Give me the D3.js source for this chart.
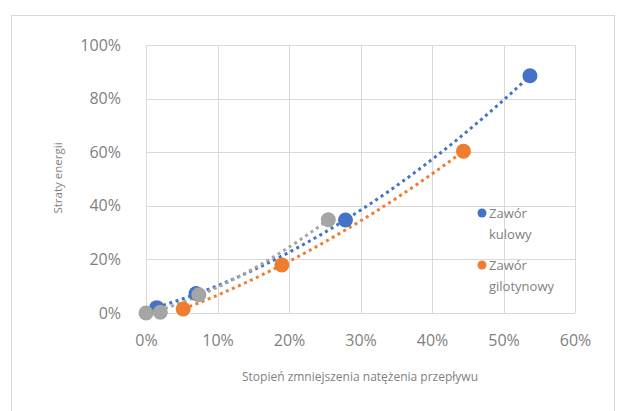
<!DOCTYPE html>
<html>
<head>
<meta charset="utf-8">
<script src="https://cdn.jsdelivr.net/npm/d3@7"></script>
<style>
  html, body { margin: 0; padding: 0; background: #fff; }
  svg { display: block; font-family: "Open Sans", "Liberation Sans", sans-serif; }
</style>
</head>
<body>
<svg id="chart" width="621" height="411"></svg>
<script>
// Flow reduction (%) vs. energy loss (%) for two valve types
const kulowyX = [1.5, 7.0, 27.9, 53.7];
const kulowyY = [2.0, 7.3, 34.7, 88.5];
const gilotynowyX = [5.2, 19.0, 44.4];
const gilotynowyY = [1.5, 17.9, 60.4];
const dodatkowaX = [0, 2.0, 7.4, 25.5];
const dodatkowaY = [0, 0.3, 6.8, 34.8];

const xTicks = [0, 10, 20, 30, 40, 50, 60];
const yTicks = [0, 20, 40, 60, 80, 100];
const legendLabels = [["Zawór", "kulowy"], ["Zawór", "gilotynowy"]];
const xTitle = "Stopień zmniejszenia natężenia przepływu";
const yTitle = "Straty energii";

const colors = { kulowy: "#4472C4", gilotynowy: "#ED7D31", dodatkowa: "#A5A5A5" };

const svg = d3.select("#chart");
const plot = { left: 146, right: 575, top: 45, bottom: 313 };

const x = d3.scaleLinear().domain([0, 60]).range([plot.left, plot.right]);
const y = d3.scaleLinear().domain([0, 100]).range([plot.bottom, plot.top]);

// chart frame
svg.append("rect")
  .attr("x", 11.5).attr("y", 15.5).attr("width", 603).attr("height", 420)
  .attr("fill", "#fff").attr("stroke", "#d9d9d9").attr("stroke-width", 1);

// gridlines
const grid = svg.append("g").attr("stroke", "#d9d9d9").attr("stroke-width", 1);
grid.selectAll("line.h").data(yTicks).join("line")
  .attr("x1", plot.left).attr("x2", plot.right)
  .attr("y1", d => Math.round(y(d)) + 0.5).attr("y2", d => Math.round(y(d)) + 0.5);
grid.selectAll("line.v").data(xTicks).join("line")
  .attr("y1", plot.top).attr("y2", plot.bottom)
  .attr("x1", d => Math.round(x(d)) + 0.5).attr("x2", d => Math.round(x(d)) + 0.5);

// axes (labels only, Excel style)
const xAxis = svg.append("g").attr("transform", `translate(0,${plot.bottom + 19})`)
  .call(d3.axisBottom(x).tickValues(xTicks).tickSize(0).tickFormat(d => d + "%"));
xAxis.select(".domain").remove();
xAxis.selectAll("text").attr("font-size", 16).attr("fill", "#7f7f7f")
  .attr("font-family", "Open Sans, sans-serif");

const yAxis = svg.append("g").attr("transform", `translate(${plot.left - 22},0)`)
  .call(d3.axisLeft(y).tickValues(yTicks).tickSize(0).tickFormat(d => d + "%"));
yAxis.select(".domain").remove();
yAxis.selectAll("text").attr("font-size", 16).attr("fill", "#7f7f7f")
  .attr("font-family", "Open Sans, sans-serif");

// axis titles
svg.append("text").attr("x", 360).attr("y", 381).attr("text-anchor", "middle")
  .attr("font-size", 12).attr("fill", "#7f7f7f").text(xTitle);
svg.append("text").attr("transform", "translate(62,178) rotate(-90)")
  .attr("text-anchor", "middle").attr("font-size", 11.5).attr("fill", "#7f7f7f").text(yTitle);

// second-order least-squares trend
function quadFit(xs, ys) {
  const n = xs.length;
  const s = k => d3.sum(xs, v => Math.pow(v, k));
  const t = k => d3.sum(xs.map((v, i) => Math.pow(v, k) * ys[i]));
  const A = [[n, s(1), s(2)], [s(1), s(2), s(3)], [s(2), s(3), s(4)]];
  const b = [t(0), t(1), t(2)];
  for (let i = 0; i < 3; i++) {
    for (let j = i + 1; j < 3; j++) {
      const f = A[j][i] / A[i][i];
      for (let k = i; k < 3; k++) A[j][k] -= f * A[i][k];
      b[j] -= f * b[i];
    }
  }
  const c = [0, 0, 0];
  for (let i = 2; i >= 0; i--) {
    let acc = b[i];
    for (let k = i + 1; k < 3; k++) acc -= A[i][k] * c[k];
    c[i] = acc / A[i][i];
  }
  return v => c[0] + c[1] * v + c[2] * v * v;
}

const series = [
  { key: "kulowy", xs: kulowyX, ys: kulowyY },
  { key: "gilotynowy", xs: gilotynowyX, ys: gilotynowyY },
  { key: "dodatkowa", xs: dodatkowaX, ys: dodatkowaY }
];

const line = d3.line().x(d => x(d[0])).y(d => y(d[1]));

series.forEach(s => {
  const f = quadFit(s.xs, s.ys);
  const lo = d3.min(s.xs), hi = d3.max(s.xs);
  const pts = d3.range(0, 101).map(i => { const v = lo + (hi - lo) * i / 100; return [v, f(v)]; });
  svg.append("path").datum(pts).attr("d", line)
    .attr("fill", "none").attr("stroke", colors[s.key])
    .attr("stroke-width", 3).attr("stroke-dasharray", "3,3.6");
});

series.forEach(s => {
  svg.append("g").selectAll("circle").data(s.xs.map((v, i) => [v, s.ys[i]])).join("circle")
    .attr("cx", d => x(d[0])).attr("cy", d => y(d[1])).attr("r", 7.5)
    .attr("fill", colors[s.key]);
});

// legend
const legend = svg.append("g");
legendLabels.forEach((lbl, i) => {
  const key = i === 0 ? "kulowy" : "gilotynowy";
  const gy = 213 + i * 52;
  const g = legend.append("g");
  g.append("circle").attr("cx", 482).attr("cy", gy).attr("r", 4.5).attr("fill", colors[key]);
  g.append("text").attr("x", 489).attr("y", gy + 4.5).attr("font-size", 13).attr("fill", "#7f7f7f").text(lbl[0]);
  g.append("text").attr("x", 489).attr("y", gy + 26).attr("font-size", 13).attr("fill", "#7f7f7f").text(lbl[1]);
});
</script>
</body>
</html>
